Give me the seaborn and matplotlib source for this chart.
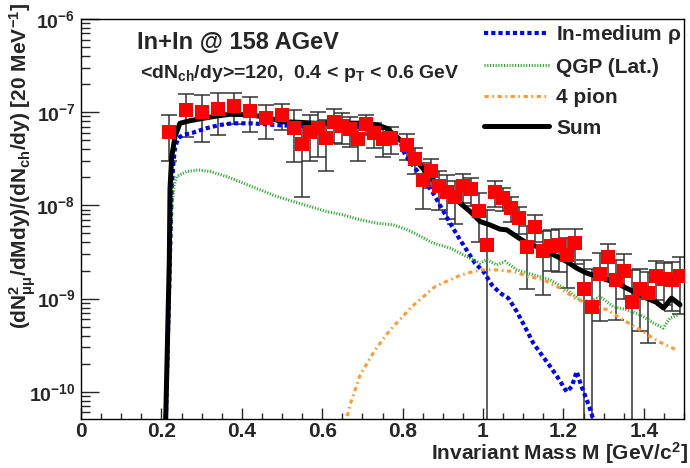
import numpy as np
import pandas as pd
import matplotlib
matplotlib.use("Agg")
import matplotlib.pyplot as plt
import seaborn as sns
from matplotlib.lines import Line2D
from matplotlib.ticker import FixedLocator, FixedFormatter, LogLocator, NullFormatter

# ---------------- data ----------------
# measured dimuon excess (points with statistical errors)
data_mass = [0.22, 0.26, 0.30, 0.34, 0.38, 0.42, 0.46, 0.50,
             0.53, 0.55, 0.57, 0.59, 0.61, 0.63, 0.65, 0.67, 0.69, 0.71, 0.73, 0.75, 0.77,
             0.81, 0.83, 0.85, 0.87, 0.89, 0.91, 0.93, 0.95, 0.97, 0.99,
             1.01, 1.03, 1.05, 1.07, 1.09, 1.11, 1.13, 1.15, 1.17, 1.19,
             1.21, 1.23, 1.25, 1.27, 1.29, 1.31, 1.33, 1.35, 1.37, 1.39,
             1.41, 1.43, 1.45, 1.47, 1.49]
data_yield = [6.18e-8, 1.057e-7, 1.014e-7, 1.084e-7, 1.175e-7, 1.04e-7, 8.61e-8, 9.33e-8,
              6.73e-8, 4.53e-8, 6.18e-8, 6.73e-8, 5.33e-8, 7.80e-8, 7.13e-8, 6.56e-8, 5.13e-8, 7.48e-8, 5.94e-8, 5.13e-8, 5.26e-8,
              4.46e-8, 3.13e-8, 1.875e-8, 2.34e-8, 1.62e-8, 1.406e-8, 1.225e-8, 1.62e-8, 1.49e-8, 8.79e-9,
              3.77e-9, 1.406e-8, 1.194e-8, 9.48e-9, 7.29e-9, 3.61e-9, 5.93e-9, 3.20e-9, 3.68e-9, 3.77e-9,
              2.90e-9, 3.99e-9, 1.27e-9, 8.2e-10, 1.83e-9, 2.76e-9, 1.59e-9, 2.0e-9, 9.1e-10, 1.26e-9,
              1.14e-9, 1.75e-9, 1.63e-9, 1.59e-9, 1.73e-9]
data_err = [3.2e-8, 5.1e-8, 5.3e-8, 5.1e-8, 4.2e-8, 4.3e-8, 3.4e-8, 2.9e-8,
            3.8e-8, 3.3e-8, 3.2e-8, 3.4e-8, 3.0e-8, 3.1e-8, 2.6e-8, 2.3e-8, 2.1e-8, 1.8e-8, 1.8e-8, 1.8e-8, 1.7e-8,
            1.4e-8, 0.95e-8, 0.95e-8, 0.8e-8, 0.72e-8, 0.7e-8, 0.6e-8, 0.56e-8, 0.5e-8, 4.7e-9,
            5.2e-9, 4.4e-9, 3.3e-9, 2.9e-9, 2.4e-9, 2.35e-9, 1.9e-9, 2.1e-9, 1.7e-9, 1.85e-9,
            1.6e-9, 1.65e-9, 1.33e-9, 1.25e-9, 1.26e-9, 1.08e-9, 1.0e-9, 1.0e-9, 1.12e-9, 0.81e-9,
            0.81e-9, 0.79e-9, 0.77e-9, 0.85e-9, 1.05e-9]

# in-medium rho contribution
rho_mass = [0.207, 0.2214, 0.2256, 0.2297, 0.2338, 0.2413, 0.2537, 0.279, 0.312, 0.345, 0.378,
            0.42, 0.462, 0.503, 0.537, 0.611, 0.677, 0.727, 0.760, 0.794, 0.806, 0.831, 0.856,
            0.876, 0.897, 0.918, 0.938, 0.959, 0.980, 1.001, 1.022, 1.042, 1.063, 1.084, 1.104,
            1.125, 1.146, 1.167, 1.187, 1.208, 1.221, 1.233, 1.245, 1.258, 1.27, 1.285]
rho_yield = [1e-11, 3e-9, 1.47e-8, 2.84e-8, 4.1e-8, 5.26e-8, 5.7e-8, 6.04e-8, 6.73e-8, 7.29e-8, 7.6e-8,
             7.6e-8, 7.4e-8, 7.2e-8, 7.13e-8, 7.0e-8, 7.0e-8, 7.0e-8, 6.56e-8, 4.8e-8, 3.48e-8, 2.51e-8, 1.8e-8,
             1.35e-8, 9.33e-9, 6.46e-9, 4.62e-9, 3.33e-9, 2.4e-9, 1.95e-9, 1.40e-9, 1.15e-9, 1.01e-9, 7.26e-10, 5.0e-10,
             3.33e-10, 2.49e-10, 1.87e-10, 1.40e-10, 1.0e-10, 1.14e-10, 1.65e-10, 1.14e-10, 8.2e-11, 5.9e-11, 3e-11]

# QGP radiation (lattice EoS)
qgp_mass = [0.207, 0.2214, 0.226, 0.232, 0.238, 0.263, 0.292, 0.321, 0.362, 0.404, 0.445, 0.487,
            0.528, 0.570, 0.611, 0.652, 0.694, 0.736, 0.777, 0.81, 0.835, 0.876, 0.918, 0.959,
            0.993, 1.009, 1.034, 1.055, 1.084, 1.125, 1.167, 1.208, 1.241, 1.266, 1.291, 1.324,
            1.357, 1.391, 1.424, 1.448, 1.465, 1.486]
qgp_yield = [1e-11, 3e-9, 1e-8, 1.66e-8, 2.04e-8, 2.31e-8, 2.4e-8, 2.31e-8, 2.04e-8, 1.73e-8, 1.47e-8, 1.245e-8,
             1.10e-8, 9.7e-9, 8.59e-9, 7.91e-9, 7.0e-9, 6.44e-9, 6.18e-9, 5.5e-9, 4.9e-9, 3.94e-9, 3.48e-9, 2.83e-9,
             2.4e-9, 2.61e-9, 2.3e-9, 2.5e-9, 2.03e-9, 1.80e-9, 1.59e-9, 1.24e-9, 9.7e-10, 9.3e-10, 1.05e-9, 8.2e-10,
             7.6e-10, 6.7e-10, 5.46e-10, 4.82e-10, 6.17e-10, 6.7e-10]

# four-pion annihilation
fourpi_mass = [0.655, 0.669, 0.694, 0.731, 0.769, 0.794, 0.823, 0.852, 0.881, 0.918, 0.947, 0.976,
               0.997, 1.034, 1.075, 1.113, 1.15, 1.192, 1.229, 1.266, 1.308, 1.349, 1.391, 1.436, 1.482]
fourpi_yield = [4e-11, 7.2e-11, 1.5e-10, 2.8e-10, 4.6e-10, 6.0e-10, 8.2e-10, 1.05e-9, 1.35e-9, 1.59e-9, 1.80e-9, 1.95e-9,
                2.03e-9, 2.03e-9, 1.95e-9, 1.73e-9, 1.59e-9, 1.29e-9, 1.01e-9, 8.6e-10, 7.6e-10, 5.9e-10, 4.6e-10, 3.47e-10, 2.8e-10]

# total
sum_mass = [0.207, 0.2197, 0.2214, 0.2256, 0.2338, 0.246, 0.271, 0.304, 0.338, 0.371, 0.42, 0.462,
            0.50, 0.54, 0.58, 0.62, 0.66, 0.70, 0.736, 0.76, 0.785, 0.806, 0.818, 0.843, 0.868,
            0.893, 0.918, 0.943, 0.968, 0.993, 1.017, 1.042, 1.059, 1.084, 1.109, 1.134, 1.158,
            1.184, 1.208, 1.233, 1.258, 1.283, 1.308, 1.333, 1.357, 1.382, 1.407, 1.432, 1.449,
            1.469, 1.49]
sum_yield = [1e-11, 2.6e-9, 1.5e-8, 3.33e-8, 5.47e-8, 7.6e-8, 8.1e-8, 8.6e-8, 9.1e-8, 9.5e-8, 9.35e-8, 8.83e-8,
             7.9e-8, 7.8e-8, 7.62e-8, 7.62e-8, 7.62e-8, 7.62e-8, 7.3e-8, 6.73e-8, 5.47e-8, 4.46e-8, 3.78e-8, 2.72e-8, 2.04e-8,
             1.59e-8, 1.30e-8, 1.057e-8, 8.59e-9, 6.7e-9, 6.18e-9, 5.56e-9, 5.46e-9, 4.62e-9, 3.94e-9, 3.61e-9, 3.2e-9,
             2.83e-9, 2.5e-9, 2.12e-9, 1.875e-9, 1.73e-9, 1.59e-9, 1.465e-9, 1.294e-9, 1.143e-9, 1.01e-9, 9.08e-10, 7.9e-10,
             1.01e-9, 8.57e-10]

x_ticks = [0, 0.2, 0.4, 0.6, 0.8, 1.0, 1.2, 1.4]
x_tick_labels = ["0", "0.2", "0.4", "0.6", "0.8", "1", "1.2", "1.4"]
y_ticks = [1e-10, 1e-9, 1e-8, 1e-7, 1e-6]
y_tick_labels = [r"$10^{-10}$", r"$10^{-9}$", r"$10^{-8}$", r"$10^{-7}$", r"$10^{-6}$"]

legend_labels = [r"In-medium $\rho$", "QGP (Lat.)", "4 pion", "Sum"]

# ---------------- style ----------------
sns.set_style("ticks")
plt.rcParams.update({
    "font.family": ["Liberation Sans", "DejaVu Sans"],
    "font.weight": "bold",
    "font.size": 15,
    "mathtext.fontset": "custom",
    "mathtext.rm": "Liberation Sans:bold",
    "mathtext.bf": "Liberation Sans:bold",
    "mathtext.sf": "Liberation Sans:bold",
    "mathtext.it": "Liberation Sans",
    "lines.scale_dashes": False,
    "axes.linewidth": 1.0,
    "axes.edgecolor": "black",
})

fig = plt.figure(figsize=(6.9, 4.68), dpi=100)
ax = fig.add_axes([81 / 690, 1 - 419 / 468, 603 / 690, 400 / 468])
ax.set_yscale("log")
ax.set_xlim(0, 1.5)
ax.set_ylim(5.1e-11, 1e-6)

BLUE = "#0000ff"
GREEN = "#22aa22"
ORANGE = "#ff9933"

styles = {
    "rho": dict(color=BLUE, lw=3.0, ls=(0, (3.0, 2.2))),
    "qgp": dict(color=GREEN, lw=2.2, ls=(0, (0.8, 1.2))),
    "4pi": dict(color=ORANGE, lw=2.2, ls=(0, (3.0, 2.6, 1.2, 2.6))),
    "sum": dict(color="black", lw=3.6, ls="-"),
}

# data error bars behind the curves
ax.errorbar(data_mass, data_yield, yerr=data_err, fmt="none", ecolor="#333333",
            elinewidth=1.1, capsize=5.5, capthick=1.1, zorder=1)

curves = [
    ("rho", rho_mass, rho_yield),
    ("qgp", qgp_mass, qgp_yield),
    ("4pi", fourpi_mass, fourpi_yield),
    ("sum", sum_mass, sum_yield),
]
for key, m, y in curves:
    df = pd.DataFrame({"M": m, "y": y})
    st = styles[key]
    sns.lineplot(data=df, x="M", y="y", ax=ax, sort=False, estimator=None,
                 color=st["color"], linewidth=st["lw"], zorder=2)
    ax.lines[-1].set_linestyle(st["ls"])
    ax.lines[-1].set_dash_capstyle("butt")

# red square markers on top
pts = pd.DataFrame({"M": data_mass, "y": data_yield})
sns.scatterplot(data=pts, x="M", y="y", ax=ax, marker="s", s=95, color="#ff0000",
                edgecolor="#ff0000", linewidth=0, zorder=3)

# ---------------- axes ----------------
ax.xaxis.set_major_locator(FixedLocator(x_ticks))
ax.xaxis.set_major_formatter(FixedFormatter(x_tick_labels))
ax.xaxis.set_minor_locator(FixedLocator(np.arange(0, 1.501, 0.05)))
ax.yaxis.set_major_locator(FixedLocator(y_ticks))
ax.yaxis.set_major_formatter(FixedFormatter(y_tick_labels))
ax.yaxis.set_minor_locator(LogLocator(base=10, subs=np.arange(2, 10), numticks=20))
ax.yaxis.set_minor_formatter(NullFormatter())

ax.tick_params(axis="x", which="major", direction="in", length=8, width=1, pad=2, labelsize=15)
ax.tick_params(axis="x", which="minor", direction="in", length=4, width=1)
ax.tick_params(axis="y", which="major", direction="in", length=13, width=1, pad=4, labelsize=14)
ax.tick_params(axis="y", which="minor", direction="in", length=6.5, width=1)
ax.tick_params(top=False, right=False, which="both")
for lab in ax.get_xticklabels() + ax.get_yticklabels():
    lab.set_fontweight("bold")

ax.set_xlabel("")
ax.set_ylabel("")
fig.text(688 / 690, 1 - 453 / 468, r"Invariant Mass M [GeV/c$^{2}$]",
         ha="right", va="center", fontsize=15, fontweight="bold")
fig.text(23 / 690, 1 - 3 / 468,
         r"(dN$^{2}_{\mu\mu}$/dMdy)/(dN$_{\mathrm{ch}}$/dy) [20 MeV$^{-1}$]",
         ha="center", va="top", rotation=90, fontsize=15, fontweight="bold")

# ---------------- annotations ----------------
ax.text(0.093, 0.9425, "In+In @ 158 AGeV", transform=ax.transAxes,
        ha="left", va="center", fontsize=17, fontweight="bold")
ax.text(0.098, 0.865, r"<dN$_{\mathrm{ch}}$/dy>=120,  0.4 < p$_{\mathrm{T}}$ < 0.6 GeV",
        transform=ax.transAxes, ha="left", va="center", fontsize=14, fontweight="bold")

handles = [Line2D([], [], color=styles[k]["color"], lw=styles[k]["lw"], ls=styles[k]["ls"])
           for k in ["rho", "qgp", "4pi", "sum"]]
leg = ax.legend(handles, legend_labels, loc="upper left", bbox_to_anchor=(0.662, 1.0),
                frameon=False, fontsize=15, handlelength=3.1, handletextpad=0.35,
                labelspacing=0.55, borderpad=0.2, borderaxespad=0)

fig.savefig("out.png", dpi=100)
